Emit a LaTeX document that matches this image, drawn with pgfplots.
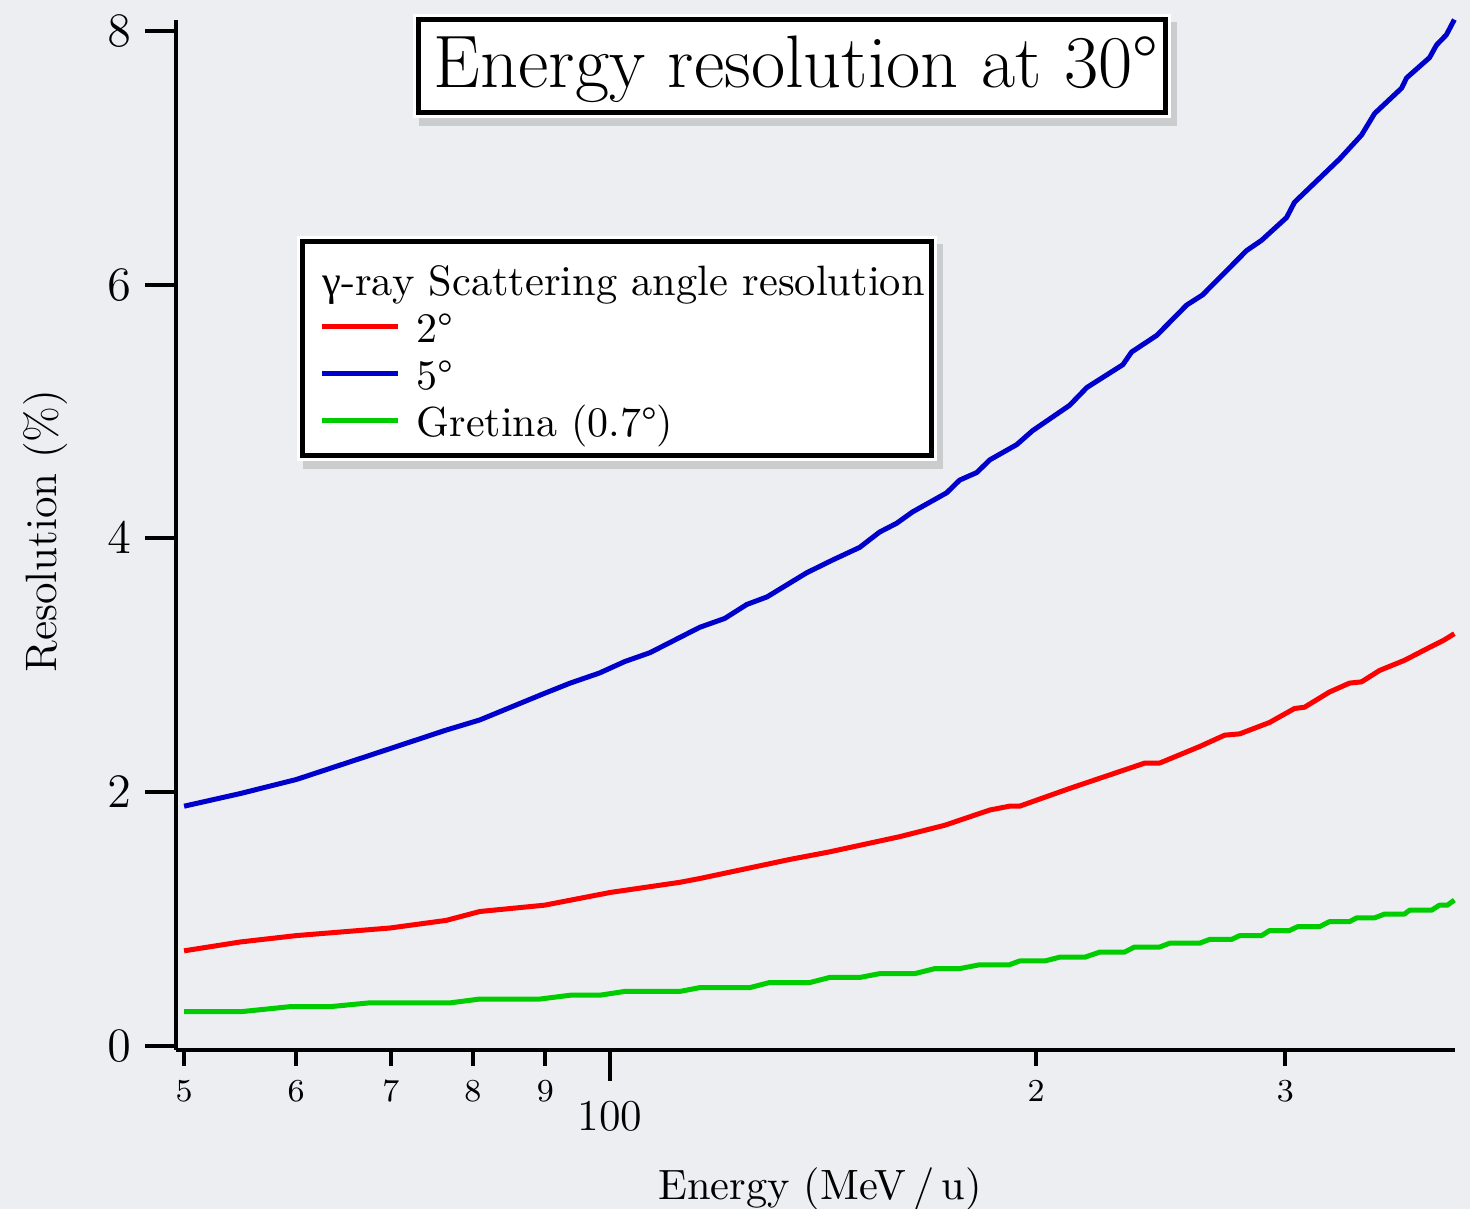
\documentclass[border=0pt]{standalone}
\usepackage{pgfplots}
\pgfplotsset{compat=1.18}
\usepackage{fontspec}
\newfontfamily\greekfont{Liberation Serif}
\usetikzlibrary{shadows}
\definecolor{bg}{RGB}{236,238,241}
\definecolor{cred}{RGB}{255,0,0}
\definecolor{cblue}{RGB}{0,0,205}
\definecolor{cgreen}{RGB}{0,205,0}
\begin{document}
\begin{tikzpicture}[x=1pt,y=1pt]
\fill[bg] (0,0) rectangle (367.5,302.25);
\useasboundingbox (0,0) rectangle (367.5,302.25);
% title box
\fill[white, drop shadow={shadow xshift=1.5pt, shadow yshift=-2pt, opacity=0.3}] (103.25,272.75) rectangle (292.75,298.75);
\draw[black, line width=1.2pt] (104.6,274.1) rectangle (291.4,297.4);
\node[anchor=base, font=\fontsize{18.6}{22}\selectfont, inner sep=0pt] at (199.0,280.25) {Energy resolution at 30\textdegree};
% legend box
\fill[white, drop shadow={shadow xshift=1.5pt, shadow yshift=-2pt, opacity=0.3}] (74.25,187) rectangle (234.25,243.25);
\draw[black, line width=1.2pt] (75.6,188.35) rectangle (232.9,241.9);
\begin{axis}[
  at={(44pt,39.75pt)}, anchor=south west, scale only axis,
  width=319.75pt, height=257.5pt,
  xmode=log, xmin=49.35, xmax=395.4, ymin=-0.0315, ymax=8.087,
  axis x line*=bottom, axis y line*=left,
  axis line style={line width=1pt, -},
  tick align=outside,
  xminorticks=false, yminorticks=false,
  ytick={0,2,4,6,8},
  major tick length=7.75pt,
  tick style={line width=1pt, black},
  yticklabel style={font=\fontsize{12}{14}\selectfont},
  xtick={100}, xticklabels={100},
  xticklabel style={font=\fontsize{11}{13}\selectfont, yshift=-1.5pt},
  extra x ticks={50,60,70,80,90,200,300},
  extra x tick labels={5,6,7,8,9,2,3},
  extra x tick style={major tick length=4pt, xticklabel style={font=\fontsize{8}{10}\selectfont, yshift=1.5pt}},
  xlabel={Energy (MeV\,/\,u)},
  ylabel={Resolution (\%)},
  every axis x label/.style={at={(axis description cs:0.5035,-0.1456)}, anchor=base, font=\fontsize{10.6}{13}\selectfont},
  every axis y label/.style={at={(axis description cs:-0.0938,0.5039)}, rotate=90, anchor=base, font=\fontsize{11}{13}\selectfont},
  clip=false,
  legend cell align=left,
  legend image code/.code={\draw[#1, line width=1.25pt] (0pt,1.55pt) -- (19pt,1.55pt);},
  legend style={draw=none, fill=none, at={(axis description cs:0.1118,0.7625)}, anchor=north west,
    font=\fontsize{10.5}{12}\selectfont, inner sep=0pt, row sep=1.8pt, column sep=4pt,
    nodes={inner sep=0pt, text height=0.75em, text depth=0.25em}},
]
\addlegendimage{empty legend}
\addlegendentry{\hspace{-23.6pt}{\fontsize{10.62}{12}\selectfont{\greekfont γ}-ray Scattering angle resolution}}
\addplot[cred, line width=1.25pt, line join=round] coordinates {
(50,0.75)(54.8,0.82)(60,0.87)(69.9,0.93)(76.6,0.99)(80.9,1.06)(89.9,1.11)(100,1.21)(112,1.29)(115.7,1.32)(133.9,1.47)(142.9,1.53)(160.2,1.65)(172.4,1.74)(185.5,1.86)(191.5,1.89)(194.7,1.89)(211.2,2.03)(232.9,2.19)(238.7,2.23)(244.5,2.23)(260.9,2.36)(271.8,2.45)(278.5,2.46)(292.4,2.55)(304.5,2.66)(309.5,2.67)(322.3,2.79)(333,2.86)(339.6,2.87)(349.7,2.96)(364.2,3.04)(380.6,3.15)(388.5,3.20)(395,3.25)
};
\addlegendentry{2\textdegree}
\addplot[cblue, line width=1.25pt, line join=round] coordinates {
(50,1.89)(54.8,1.99)(60,2.10)(67.6,2.29)(76.6,2.49)(80.9,2.57)(89.9,2.78)(93.7,2.86)(98.3,2.94)(102.4,3.03)(106.7,3.10)(115.7,3.30)(120.5,3.37)(124.9,3.48)(129.1,3.54)(137.7,3.73)(143.6,3.83)(150.1,3.93)(155.0,4.05)(159.4,4.12)(163.6,4.21)(172.9,4.36)(176.6,4.46)(181.6,4.52)(185.5,4.62)(193.8,4.74)(198.9,4.85)(211.2,5.05)(217.2,5.19)(230.3,5.37)(233.6,5.47)(243.3,5.60)(255.5,5.84)(262.2,5.92)(281.7,6.27)(288.6,6.35)(300.6,6.53)(304.5,6.65)(327.6,6.99)(339.6,7.18)(346.9,7.35)(362.5,7.55)(365.4,7.63)(379.3,7.79)(383.7,7.89)(389.9,7.97)(395,8.09)
};
\addlegendentry{5\textdegree}
\addplot[cgreen, line width=1.25pt, line join=round] coordinates {
(50,0.27)(54.8,0.27)(59.4,0.31)(63.4,0.31)(67.6,0.34)(77.1,0.34)(80.9,0.37)(89.2,0.37)(93.7,0.40)(98.3,0.40)(102.4,0.43)(112.0,0.43)(115.7,0.46)(125.5,0.46)(129.6,0.50)(138.4,0.50)(142.9,0.54)(150.1,0.54)(155.0,0.57)(164.1,0.57)(169.6,0.61)(176.6,0.61)(182.4,0.64)(191.5,0.64)(194.7,0.67)(202.8,0.67)(207.8,0.70)(216.5,0.70)(221.8,0.74)(230.9,0.74)(234.7,0.78)(244.5,0.78)(248.5,0.81)(260.9,0.81)(265.2,0.84)(274.9,0.84)(278.5,0.87)(288.6,0.87)(292.4,0.91)(302.0,0.91)(306.0,0.94)(317.1,0.94)(322.3,0.98)(333.0,0.98)(336.9,1.01)(346.9,1.01)(352.6,1.04)(364.2,1.04)(367.2,1.07)(380.6,1.07)(385.5,1.11)(390.5,1.11)(395,1.15)
};
\addlegendentry{Gretina (0.7\textdegree)}
\end{axis}
\end{tikzpicture}
\end{document}
